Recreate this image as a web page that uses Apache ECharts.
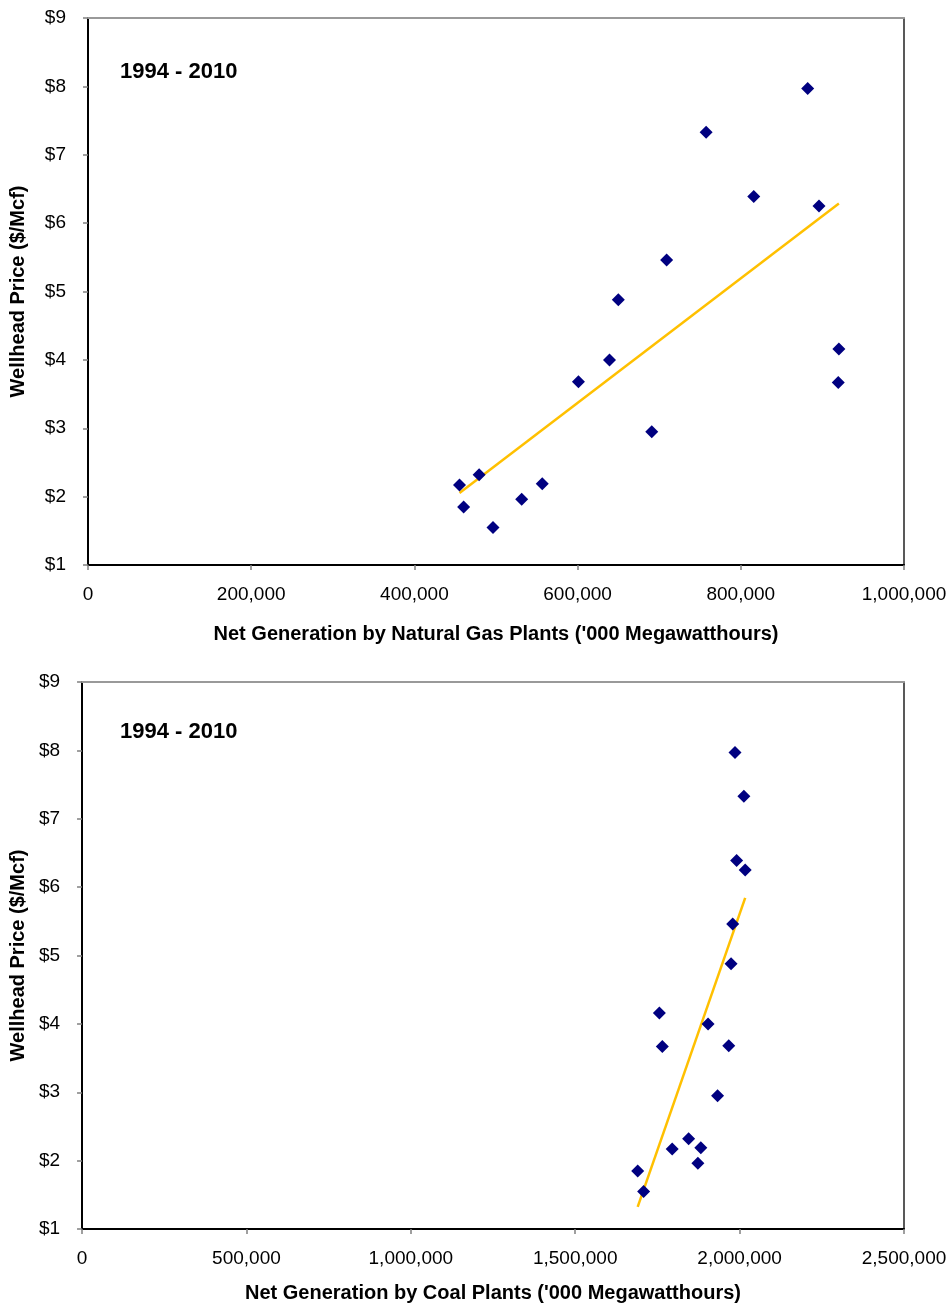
<!DOCTYPE html>
<html>
<head>
<meta charset="utf-8">
<script src="https://cdn.jsdelivr.net/npm/echarts@6/dist/echarts.min.js"></script>
<style>
html,body{margin:0;padding:0;background:#fff;}
#chart{width:952px;height:1305px;}
</style>
</head>
<body>
<div id="chart"></div>
<script>
// Data (1994 - 2010)
const years = [1994,1995,1996,1997,1998,1999,2000,2001,2002,2003,2004,2005,2006,2007,2008,2009,2010];
const wellheadPrice = [1.85,1.55,2.17,2.32,1.96,2.19,3.68,4.00,2.95,4.88,5.46,7.33,6.39,6.25,7.97,3.67,4.16];
const gasGeneration = [460300,496300,455300,479300,531500,556700,601000,639100,690900,649900,709100,757500,815900,895800,882000,919400,920200];
const coalGeneration = [1690000,1708000,1795000,1845000,1873000,1882000,1967000,1904000,1933000,1974000,1979000,2013000,1991000,2017000,1986000,1765000,1756000];
const periodLabel = '1994 - 2010';
const yAxisName = 'Wellhead Price ($/Mcf)';
const gasAxisName = "Net Generation by Natural Gas Plants ('000 Megawatthours)";
const coalAxisName = "Net Generation by Coal Plants ('000 Megawatthours)";

function pairs(xs, ys){ return xs.map((x,i)=>[x, ys[i]]); }
// Linear least-squares trendline (as in the spreadsheet), spanning data range
function trend(xs, ys){
  const n = xs.length;
  const mx = xs.reduce((a,b)=>a+b,0)/n, my = ys.reduce((a,b)=>a+b,0)/n;
  let sxy=0, sxx=0;
  for(let i=0;i<n;i++){ sxy += (xs[i]-mx)*(ys[i]-my); sxx += (xs[i]-mx)*(xs[i]-mx); }
  const b = sxy/sxx, a = my - b*mx;
  const x0 = Math.min(...xs), x1 = Math.max(...xs);
  return [[x0, a+b*x0],[x1, a+b*x1]];
}

const FONT = 'Liberation Sans, Arial, Helvetica, sans-serif';
const fmtNum = v => v.toLocaleString('en-US');
const fmtPrice = v => '$' + v;

function bottomX(gi, max, interval, name, gap){
  return {
    gridIndex: gi, type:'value', min:0, max:max, interval:interval, position:'bottom',
    axisLine:{onZero:false, lineStyle:{color:'#000', width:2}},
    axisTick:{show:true, length:5, lineStyle:{color:'#808080', width:1.5}},
    axisLabel:{fontSize:19, color:'#000', margin:20, fontFamily:FONT, formatter:fmtNum},
    splitLine:{show:false},
    name:name, nameLocation:'middle', nameGap:gap,
    nameTextStyle:{fontSize:20, fontWeight:'bold', color:'#000', fontFamily:FONT}
  };
}
function topX(gi, max){
  return {
    gridIndex: gi, type:'value', min:0, max:max, position:'top',
    axisLine:{onZero:false, lineStyle:{color:'#999', width:2}},
    axisTick:{show:false}, axisLabel:{show:false}, splitLine:{show:false}
  };
}
function leftY(gi, gap){
  return {
    gridIndex: gi, type:'value', min:1, max:9, interval:1, position:'left',
    axisLine:{onZero:false, lineStyle:{color:'#000', width:2}},
    axisTick:{show:true, length:5, lineStyle:{color:'#808080', width:1.5}},
    axisLabel:{fontSize:19, color:'#000', margin:22, fontFamily:FONT, formatter:fmtPrice},
    splitLine:{show:false},
    name:yAxisName, nameLocation:'middle', nameGap:gap, nameRotate:90,
    nameTextStyle:{fontSize:20, fontWeight:'bold', color:'#000', fontFamily:FONT}
  };
}
function rightY(gi){
  return {
    gridIndex: gi, type:'value', min:1, max:9, position:'right',
    axisLine:{onZero:false, lineStyle:{color:'#222', width:1.5}},
    axisTick:{show:false}, axisLabel:{show:false}, splitLine:{show:false}
  };
}

const chart = echarts.init(document.getElementById('chart'), null, {renderer:'canvas'});
chart.setOption({
  animation:false,
  backgroundColor:'#ffffff',
  textStyle:{fontFamily:FONT},
  title:[
    {text:periodLabel, left:120, top:61, padding:0, textStyle:{fontSize:22, fontWeight:'bold', color:'#000', fontFamily:FONT}},
    {text:periodLabel, left:120, top:721, padding:0, textStyle:{fontSize:22, fontWeight:'bold', color:'#000', fontFamily:FONT}}
  ],
  grid:[
    {left:88, top:18, width:816, height:547},
    {left:82, top:682, width:822, height:547}
  ],
  xAxis:[
    bottomX(0, 1000000, 200000, gasAxisName, 59),
    topX(0, 1000000),
    bottomX(1, 2500000, 500000, coalAxisName, 54),
    topX(1, 2500000)
  ],
  yAxis:[
    leftY(0, 60), rightY(0),
    leftY(1, 54), rightY(1)
  ],
  series:[
    {type:'line', xAxisIndex:0, yAxisIndex:0, data:trend(gasGeneration, wellheadPrice),
     symbol:'none', lineStyle:{color:'#FFC000', width:2.5}, z:2, silent:true},
    {type:'scatter', xAxisIndex:0, yAxisIndex:0, data:pairs(gasGeneration, wellheadPrice),
     symbol:'diamond', symbolSize:13, itemStyle:{color:'#000080', opacity:1}, z:3},
    {type:'line', xAxisIndex:2, yAxisIndex:2, data:trend(coalGeneration, wellheadPrice),
     symbol:'none', lineStyle:{color:'#FFC000', width:2.5}, z:2, silent:true},
    {type:'scatter', xAxisIndex:2, yAxisIndex:2, data:pairs(coalGeneration, wellheadPrice),
     symbol:'diamond', symbolSize:13, itemStyle:{color:'#000080', opacity:1}, z:3}
  ]
});
</script>
</body>
</html>
